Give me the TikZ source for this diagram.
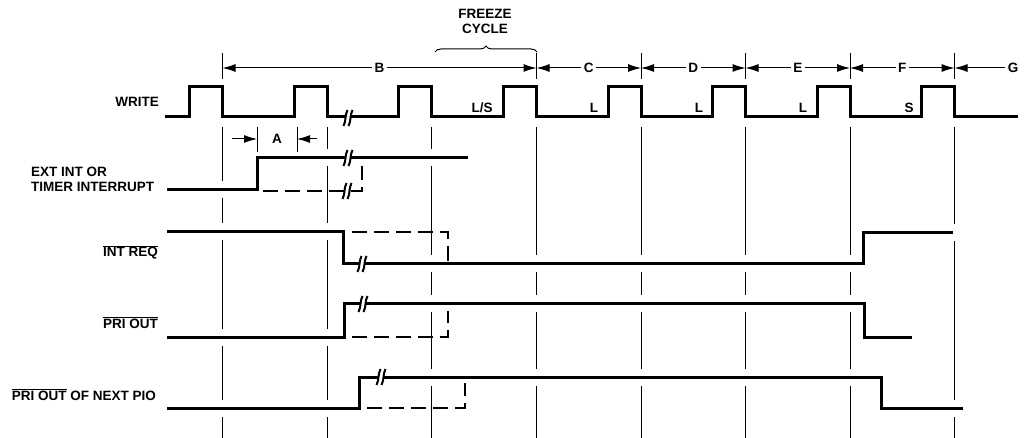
\documentclass[tikz,border=0pt]{standalone}
\usepackage{fontspec}
\setmainfont{Liberation Sans}
\usetikzlibrary{arrows.meta,decorations.pathreplacing}

\tikzset{
  sig/.style={line width=3pt},
  halo/.style={white,line width=17pt,line cap=rect},
  dsig/.style={line width=1.3pt,dash pattern=on 15pt off 7pt},
  guide/.style={line width=1pt},
  lbl/.style={font=\bfseries\fontsize{13.5}{15}\selectfont,inner sep=0pt},
  cyc/.style={lbl,fill=white,inner sep=2.5pt},
  brk/.pic={
    \fill[white] (-4.5,8) -- (-0.5,-8) -- (4.5,-8) -- (0.5,8) -- cycle;
    \draw[line width=2pt] (-4.5,8) .. controls (-1.5,2) and (-3.5,-2) .. (-0.5,-8);
    \draw[line width=2pt] (0.5,8) .. controls (3.5,2) and (1.5,-2) .. (4.5,-8);
  }
}

\begin{document}
\begin{tikzpicture}[x=1pt,y=-1pt,>={Latex[length=13pt,width=8pt]}]
    \useasboundingbox (0,0) rectangle (1028,438);

    % cycle boundaries
    \foreach \x in {222.5,327,431.5,536.5,641,745.5,850,954.5} {
        \draw[guide] (\x,127) -- (\x,438);
    }

    % WRITE strobe
    \draw[sig] (165,117)
        \foreach \x in {222.5,327,431.5,536.5,641,745.5,850,954.5} {
            -- (\x-33,117) -- (\x-33,87) -- (\x,87) -- (\x,117)
        } -- (1018,117);
    \foreach \x/\t in {482/L\slash S, 594/L, 699/L, 803/L, 909/S} {
        \node[lbl] at (\x,108) {\t};
    }

    % signals (white halo first, then the line)
    \foreach \s in {halo,sig} {
        \draw[\s] (167,190) -- (257,190) -- (257,158) -- (468,158);
        \draw[\s] (167,232) -- (343,232) -- (343,264) -- (863,264) -- (863,233) -- (953,233);
        \draw[\s] (167,337) -- (344,337) -- (344,304) -- (864,304) -- (864,337) -- (912,337);
        \draw[\s] (167,408) -- (359,408) -- (359,377) -- (881,377) -- (881,408) -- (963,408);
    }

    % alternative timing
    \draw[dsig] (263,191) -- (362,191) -- (362,166);
    \draw[dsig] (352,232) -- (448,232) -- (448,262);
    \draw[dsig] (352,337) -- (448,337) -- (448,311);
    \draw[dsig] (367,408) -- (465,408) -- (465,383);

    % time breaks
    \foreach \x/\y in {348/118, 348/158, 347/191, 362/264, 363/304, 381/377} {
        \pic at (\x,\y) {brk};
    }

    % delay A
    \draw[guide] (257,127) -- (257,152);
    \draw[guide] (297,127) -- (297,152);
    \node[lbl] (lA) at (277,139) {A};
    \coordinate (aL) at (232,139);
    \coordinate (aR) at (317,139);
    \draw[guide,->] (aL) -- (257,139);
    \draw[guide,->] (aR) -- (297,139);

    % cycle dimensions
    \foreach \x in {222.5,536.5,641,745.5,850,954.5} {
        \draw[guide] (\x,53) -- (\x,79);
    }
    \draw[guide,<->] (222.5,68) -- node[cyc] (lB) {B} (536.5,68);
    \draw[guide,<->] (536.5,68) -- node[cyc] (lC) {C} (641,68);
    \draw[guide,<->] (641,68) -- node[cyc] (lD) {D} (745.5,68);
    \draw[guide,<->] (745.5,68) -- node[cyc] (lE) {E} (850,68);
    \draw[guide,<->] (850,68) -- node[cyc] (lF) {F} (954.5,68);
    \node[cyc] (lG) at (1013,68) {G};
    \draw[guide,<-] (954.5,68) -- (lG);

    \draw[guide,decorate,decoration={brace,amplitude=6pt}] (435,52) -- (537,52);
    \node[lbl,align=center] (frz) at (485,21) {FREEZE\\CYCLE};

    % signal names
    \node[lbl,anchor=base east] (wr) at (159,107) {WRITE};
    \node[lbl,anchor=west,align=left] (ext) at (31,179.5) {EXT INT OR\\TIMER INTERRUPT};
    \node[lbl,anchor=base east] (ir) at (158,257) {$\overline{\hbox{INT REQ}}$};
    \node[lbl,anchor=base east] (po) at (158,328) {$\overline{\hbox{PRI OUT}}$};
    \node[lbl,anchor=base east] (pn) at (156,400) {$\overline{\hbox{PRI OUT}}$ OF NEXT PIO};
\end{tikzpicture}
\end{document}
